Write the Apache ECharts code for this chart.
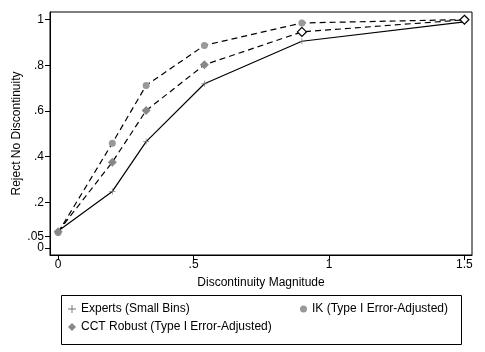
<!DOCTYPE html>
<html>
<head>
<meta charset="utf-8">
<title>Reject No Discontinuity</title>
<script src="https://cdn.jsdelivr.net/npm/echarts@6/dist/echarts.min.js"></script>
<style>
  html, body { margin: 0; padding: 0; background: #fff; }
  #main { width: 485px; height: 352px; }
</style>
</head>
<body>
<div id="main"></div>
<script>
// discontinuity magnitudes
var magnitudes = [0, 0.2, 0.325, 0.54, 0.9, 1.5];
// rejection rates per method
var experts = [0.075, 0.248, 0.466, 0.719, 0.905, 0.99];
var ik = [0.068, 0.459, 0.712, 0.887, 0.985, 1.0];
var cct = [0.072, 0.376, 0.602, 0.802, 0.946, 0.999];
// which CCT points are drawn hollow
var cctHollow = [false, false, false, false, true, true];

var xTicks = [0, 0.5, 1, 1.5];
var yTicks = [0, 0.2, 0.4, 0.6, 0.8, 1];
var yExtraTicks = [0.05];   // drawn on an overlaid axis so it is not hidden

var names = ['Experts (Small Bins)', 'IK (Type I Error-Adjusted)', 'CCT Robust (Type I Error-Adjusted)'];

var plusPath = 'path://M0,4.4h10v1.2h-10z M4.4,0h1.2v10h-1.2z';
var font = 'Liberation Sans, Arial, sans-serif';

function fmt(v) {
  var s = String(Math.round(v * 100) / 100);
  return s.replace(/^0\./, '.');
}

function pairs(ys) {
  return ys.map(function (y, i) { return [magnitudes[i], y]; });
}

function yAxisFor(ticks, withName) {
  return {
    type: 'value',
    position: 'left',
    min: -0.03, max: 1.033,
    name: withName ? 'Reject No Discontinuity' : '',
    nameLocation: 'middle',
    nameGap: 25,
    nameTextStyle: { fontFamily: font, fontSize: 12, color: '#000' },
    splitLine: { show: false },
    axisLine: { show: withName, onZero: false, lineStyle: { color: '#000' } },
    axisTick: { show: true, length: 5, customValues: ticks, lineStyle: { color: '#000' } },
    axisLabel: {
      customValues: ticks, formatter: fmt, margin: 6, hideOverlap: false,
      showMinLabel: true, showMaxLabel: true,
      fontFamily: font, fontSize: 12, color: '#000'
    }
  };
}

var chart = echarts.init(document.getElementById('main'));

var option = {
  backgroundColor: '#fff',
  animation: false,
  grid: {
    left: 50, right: 13, top: 12, bottom: 97,
    show: true, borderColor: '#000', borderWidth: 1
  },
  xAxis: {
    type: 'value',
    min: -0.03, max: 1.528,
    name: 'Discontinuity Magnitude',
    nameLocation: 'middle',
    nameGap: 22,
    nameTextStyle: { fontFamily: font, fontSize: 12, color: '#000' },
    splitLine: { show: false },
    axisLine: { show: true, onZero: false, lineStyle: { color: '#000' } },
    axisTick: { show: true, length: 5, customValues: xTicks, lineStyle: { color: '#000' } },
    axisLabel: {
      customValues: xTicks, formatter: fmt, margin: 4, hideOverlap: false,
      showMinLabel: true, showMaxLabel: true,
      fontFamily: font, fontSize: 12, color: '#000'
    }
  },
  yAxis: [yAxisFor(yTicks, true), yAxisFor(yExtraTicks, false)],
  legend: [{
    data: [
      { name: names[0], icon: plusPath },
      { name: names[2], icon: 'diamond' }
    ],
    orient: 'vertical',
    left: 63, top: 298,
    itemWidth: 8, itemHeight: 8, itemGap: 6,
    textStyle: { fontFamily: font, fontSize: 12, color: '#000' }
  }, {
    data: [{ name: names[1], icon: 'circle' }],
    orient: 'vertical',
    left: 295, top: 298,
    itemWidth: 7, itemHeight: 7,
    textStyle: { fontFamily: font, fontSize: 12, color: '#000' }
  }],
  graphic: [{
    type: 'rect',
    shape: { x: 61.5, y: 295.5, width: 400, height: 49 },
    style: { fill: 'none', stroke: '#000', lineWidth: 1 },
    silent: true
  }],
  series: [{
    name: names[0],
    type: 'line',
    data: pairs(experts),
    symbol: plusPath,
    symbolSize: 6,
    itemStyle: { color: '#777' },
    lineStyle: { color: '#000', width: 1.2, type: 'solid' },
    z: 3
  }, {
    name: names[1],
    type: 'line',
    data: pairs(ik),
    symbol: 'circle',
    symbolSize: 7,
    itemStyle: { color: '#999' },
    lineStyle: { color: '#000', width: 1.2, type: [6, 4] },
    z: 2
  }, {
    name: names[2],
    type: 'line',
    data: cct.map(function (y, i) {
      var item = { value: [magnitudes[i], y] };
      if (cctHollow[i]) {
        item.itemStyle = { color: '#fff', borderColor: '#000', borderWidth: 1.2 };
      }
      return item;
    }),
    symbol: 'diamond',
    symbolSize: 9,
    itemStyle: { color: '#888' },
    lineStyle: { color: '#000', width: 1.2, type: [6, 4] },
    z: 4
  }]
};

chart.setOption(option);
</script>
</body>
</html>
